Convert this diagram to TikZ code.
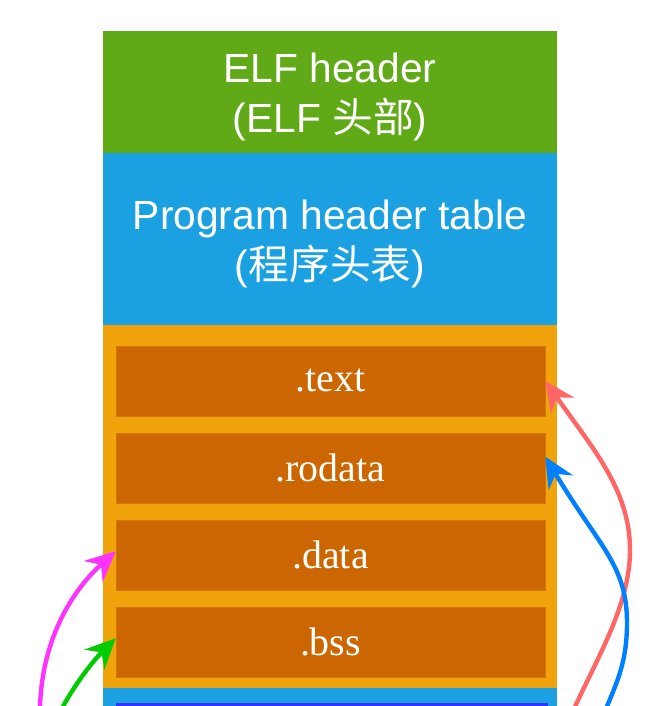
\documentclass[tikz,border=0pt]{standalone}
\usepackage{fontspec}
\setmainfont{Liberation Serif}
\setsansfont{Liberation Sans}
\newfontfamily\cjk{Noto Sans CJK SC}
\usetikzlibrary{arrows.meta,positioning}

\definecolor{elfgreen}{HTML}{60A917}
\definecolor{phtblue}{HTML}{1BA1E2}
\definecolor{segamber}{HTML}{F0A30A}
\definecolor{secfill}{HTML}{CC6600}
\definecolor{barblue}{HTML}{3333FF}
\definecolor{textred}{HTML}{FF6666}
\definecolor{rodatablue}{HTML}{007FFF}
\definecolor{datamagenta}{HTML}{FF33FF}
\definecolor{bssgreen}{HTML}{00CC00}

\begin{document}
\begin{tikzpicture}[x=0.02cm, y=-0.02cm]
    % Define styles
    \tikzset{
        region/.style={rectangle, minimum width=9.08cm, inner sep=0pt, outer sep=0pt},
        regionlabel/.style={text=white, align=center, inner sep=0pt, font=\sffamily\fontsize{23.2}{28.2}\selectfont},
        section/.style={rectangle, draw=secfill!75!segamber, fill=secfill, minimum width=8.58cm, minimum height=1.4cm, inner sep=0pt, text=white, font=\fontsize{22.7}{27}\selectfont},
        arrow/.style={-{Stealth[length=0.6cm, width=0.56cm, inset=0.2cm]}, line width=2.5pt}
    }
    \useasboundingbox (0,0) rectangle (657,706);
    \clip (0,0) rectangle (657,706);

    % Place nodes
    \node[region, fill=elfgreen, minimum height=2.44cm] (elfhdr) at (330,92) {};
    \node[region, fill=phtblue, minimum height=3.44cm] (phdr) at (330,239) {};
    \node[region, fill=segamber, minimum height=7.26cm] (segment) at (330,506.5) {};
    \node[region, fill=phtblue, minimum height=2cm, anchor=north] (lower) at (330,688) {};
    \node[rectangle, fill=barblue, minimum width=8.64cm, minimum height=1cm, inner sep=0pt, anchor=north] (lowerbar) at (332,703) {};

    \node[regionlabel] (elflabel) at (330,97) {ELF header\\(ELF {\cjk 头部})};
    \node[regionlabel] (phdrlabel) at (330,244) {Program header table\\({\cjk 程序头表})};

    \node[section] (text) at (330.5,381) {.text};
    \node[section] (rodata) at (330.5,468) {.rodata};
    \node[section] (data) at (330.5,555) {.data};
    \node[section] (bss) at (330.5,642) {.bss};

    % Free ends of the arrows (below the picture)
    \coordinate (redstart) at (567,725);
    \coordinate (bluestart) at (602,720);
    \coordinate (magstart) at (40,725);
    \coordinate (grnstart) at (55,722);

    % Draw arrows
    \draw[arrow, textred] (redstart) .. controls (591,667) and (630,610) .. (630,550)
        .. controls (630,490) and (593,449) .. (text.east);
    \draw[arrow, rodatablue] (bluestart) .. controls (612,690) and (627,670) .. (627,623)
        .. controls (627,565) and (600,548) .. (rodata.3);
    \draw[arrow, datamagenta] (magstart) .. controls (37,640) and (75,588) .. (data.179);
    \draw[arrow, bssgreen] (grnstart) .. controls (70,690) and (92,662) .. (bss.179);
\end{tikzpicture}
\end{document}
